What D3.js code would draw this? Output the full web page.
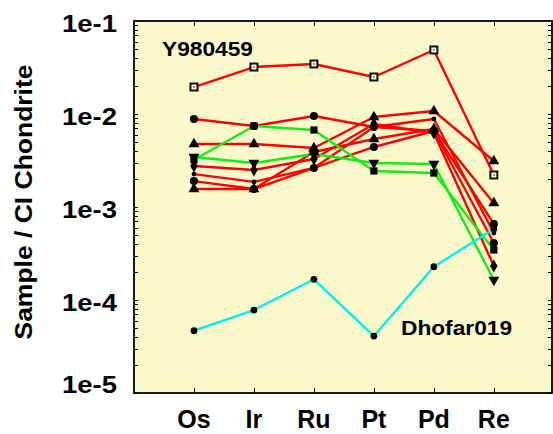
<!DOCTYPE html>
<html><head><meta charset="utf-8">
<script src="https://cdn.jsdelivr.net/npm/d3@7"></script>
<style>html,body{margin:0;padding:0;background:#fff;}svg{display:block;}</style>
</head><body>
<svg id="chart" width="553" height="434"></svg>
<script>
// ---- data ----
const categories = ["Os","Ir","Ru","Pt","Pd","Re"];
const yTickValues = [1e-5,1e-4,1e-3,1e-2,1e-1];
const yTickLabels = ["1e-5","1e-4","1e-3","1e-2","1e-1"];

const y980459   = [0.0195, 0.0320, 0.0345, 0.0250, 0.0488, 0.00221];
const redCircle1 = [0.00884, 0.00743, 0.00952, 0.00725, 0.00657, 0.000657];
const redTri1    = [0.00476, 0.00476, 0.00431, 0.00928, 0.01077, 0.00312];
const redDiamond = [0.00276, 0.00250, 0.00328, 0.00781, 0.00625, 0.000232];
const redDot     = [0.00226, 0.00186, 0.00263, 0.00725, 0.00884, 0.000525];
const redCircle2 = [0.00190, 0.00156, 0.00263, 0.00442, 0.00657, 0.000410];
const redTri2    = [0.00156, 0.00156, 0.00390, 0.00538, 0.00690, 0.00110];
const greenSquare = [0.00322, 0.00743, 0.00673, 0.00244, 0.00232, 0.000345];
const greenTriDown = [0.00345, 0.00297, 0.00372, 0.00297, 0.00290, 0.000164];
const dhofar019  = [0.0000468, 0.0000780, 0.000167, 0.0000410, 0.000228, 0.000580];

const series = [
  {values: y980459,    color: "#ff0000", marker: "openSquare"},
  {values: redCircle1, color: "#ff0000", marker: "circle"},
  {values: redTri1,    color: "#ff0000", marker: "triUp"},
  {values: redDiamond, color: "#ff0000", marker: "diamond"},
  {values: redDot,     color: "#ff0000", marker: "dot"},
  {values: redCircle2, color: "#ff0000", marker: "circle"},
  {values: redTri2,    color: "#ff0000", marker: "triUp"},
  {values: greenSquare,  color: "#11ee11", marker: "square"},
  {values: greenTriDown, color: "#11ee11", marker: "triDown"},
  {values: dhofar019,  color: "#00f0f0", marker: "smallCircle"}
];

// ---- layout ----
const L = 134, R = 552, T = 21, B = 393;
const svg = d3.select("#chart");
const x = d3.scaleLinear().domain([-1, 5.97]).range([L, R]);
const y = d3.scaleLog().domain([1e-5, 1e-1]).range([B, T]);

svg.append("rect").attr("x", L).attr("y", T).attr("width", R - L).attr("height", B - T)
  .attr("fill", "#fbf8cb");

// ticks
const minor = [];
for (let e = -5; e < -1; e++) for (let m = 1; m <= 9; m++) minor.push(m * Math.pow(10, e));
const tickG = svg.append("g").attr("stroke", "#000").attr("stroke-width", 1);
minor.forEach(v => {
  const yy = Math.round(y(v)) + 0.5;
  tickG.append("line").attr("x1", L).attr("x2", L + 4).attr("y1", yy).attr("y2", yy);
  tickG.append("line").attr("x1", R).attr("x2", R - 4).attr("y1", yy).attr("y2", yy);
});
categories.forEach((c, i) => {
  const xx = Math.round(x(i)) + 0.5;
  tickG.append("line").attr("x1", xx).attr("x2", xx).attr("y1", B).attr("y2", B - 5);
  tickG.append("line").attr("x1", xx).attr("x2", xx).attr("y1", T).attr("y2", T + 5);
});

// lines
const line = d3.line().x((d, i) => x(i)).y(d => y(d));
series.forEach(s => {
  svg.append("path").datum(s.values).attr("d", line)
    .attr("fill", "none").attr("stroke", s.color).attr("stroke-width", 2.4)
    .attr("stroke-linejoin", "round");
});

// markers
const sym = {
  circle: d3.symbol().type(d3.symbolCircle).size(52),
  smallCircle: d3.symbol().type(d3.symbolCircle).size(36),
  dot: d3.symbol().type(d3.symbolCircle).size(18),
  triUp: d3.symbol().type(d3.symbolTriangle).size(52),
  triDown: d3.symbol().type(d3.symbolTriangle).size(52),
  diamond: d3.symbol().type(d3.symbolDiamond).size(48),
  square: d3.symbol().type(d3.symbolSquare).size(52)
};
series.forEach(s => {
  s.values.forEach((v, i) => {
    const g = svg.append("g").attr("transform", `translate(${x(i)},${y(v)})`);
    if (s.marker === "openSquare") {
      g.append("rect").attr("x", -3.5).attr("y", -3.5).attr("width", 7).attr("height", 7)
        .attr("fill", "#fffbe6").attr("stroke", "#111").attr("stroke-width", 2);
      g.append("rect").attr("x", -1).attr("y", -1).attr("width", 2).attr("height", 2).attr("fill", "#999");
    } else {
      g.append("path").attr("d", sym[s.marker]()).attr("fill", "#000")
        .attr("transform", s.marker === "triDown" ? "rotate(180)" : null);
    }
  });
});

// frame
svg.append("rect").attr("x", L).attr("y", T).attr("width", R - L).attr("height", B - T)
  .attr("fill", "none").attr("stroke", "#000").attr("stroke-width", 1.8);

// y tick labels
const font = "'Liberation Sans', Arial, Helvetica, sans-serif";
yTickValues.forEach((v, i) => {
  const cy = Math.min(y(v) + 2, 384);
  svg.append("text").attr("x", 117).attr("y", cy + 8.5)
    .attr("text-anchor", "end").attr("font-family", font).attr("font-weight", "bold")
    .attr("font-size", 23).attr("textLength", 55).attr("lengthAdjust", "spacingAndGlyphs")
    .attr("fill", "#000").text(yTickLabels[i]);
});

// category labels
categories.forEach((c, i) => {
  svg.append("text").attr("x", x(i)).attr("y", 428).attr("text-anchor", "middle")
    .attr("font-family", font).attr("font-weight", "bold").attr("font-size", 25)
    .attr("fill", "#000").text(c);
});

// y axis title
svg.append("text").attr("transform", "translate(32,202) rotate(-90)")
  .attr("text-anchor", "middle").attr("font-family", font).attr("font-weight", "bold")
  .attr("font-size", 23).attr("textLength", 275).attr("lengthAdjust", "spacingAndGlyphs")
  .attr("fill", "#000").text("Sample / CI Chondrite");

// annotations
svg.append("text").attr("x", 162).attr("y", 56).attr("font-family", font).attr("font-weight", "bold")
  .attr("font-size", 20).attr("textLength", 91).attr("lengthAdjust", "spacingAndGlyphs")
  .attr("fill", "#000").text("Y980459");
svg.append("text").attr("x", 401).attr("y", 335).attr("font-family", font).attr("font-weight", "bold")
  .attr("font-size", 21).attr("textLength", 111).attr("lengthAdjust", "spacingAndGlyphs")
  .attr("fill", "#000").text("Dhofar019");
</script>
</body></html>
